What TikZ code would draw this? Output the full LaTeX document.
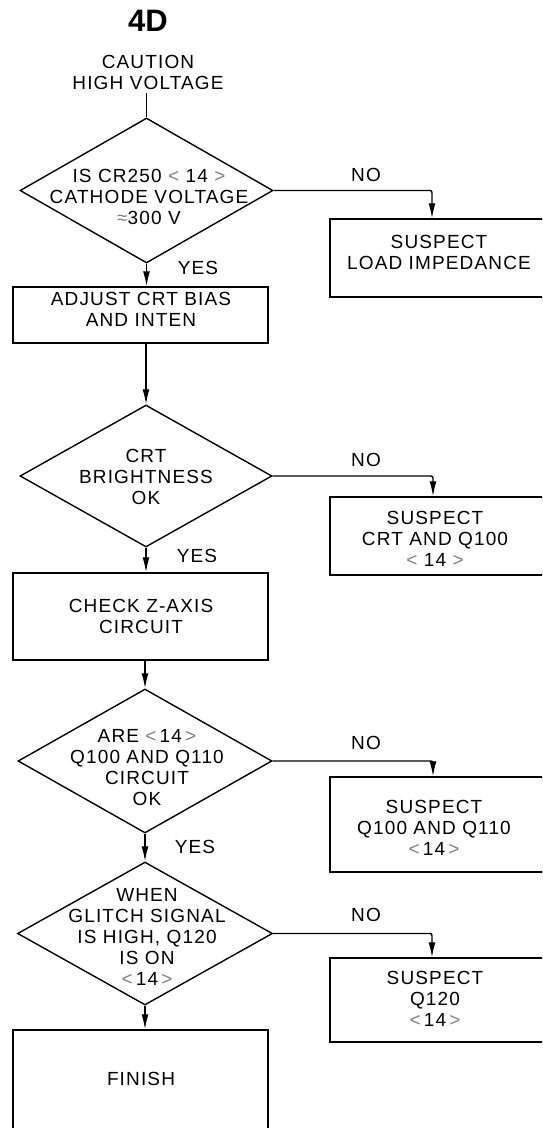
\documentclass[tikz,border=0pt]{standalone}
\usepackage{fontspec}
\setmainfont{Liberation Sans}
\newfontfamily\lblfont[LetterSpace=6]{Liberation Sans}
\usetikzlibrary{shapes.geometric,arrows.meta}
\newcommand\lab{{\color{black!50}<}}
\newcommand\rab{{\color{black!50}>}}
\newcommand\apx{{\color{black!50}≈}}
\begin{document}
\begin{tikzpicture}[x=1pt,y=-1pt,
  every node/.style={font=\lblfont\fontsize{19}{21}\selectfont, align=center, inner sep=0pt},
  dia/.style={draw, shape=diamond, line width=1.4pt},
  box/.style={draw, rectangle, line width=1.5pt},
  conn/.style={line width=1.4pt},
  arr/.style={conn, -{Latex[length=15pt,width=7pt]}},
  ttl/.style={font=\bfseries\fontsize{31}{34}\selectfont}
]
\useasboundingbox (0,0) rectangle (542,1128);
\clip (0,0) rectangle (542,1128);
\fill[white] (0,0) rectangle (542,1128);

% title and caution
\node[ttl] (title) at (148,21) {4D};
\node (caution) at (148,72) {CAUTION\\HIGH VOLTAGE};

% main column shapes
\node[dia, minimum width=253, minimum height=145] (d1) at (146.5,190.5) {};
\node (d1t) at (149,197) {IS CR250 \lab\ 14 \rab\\CATHODE VOLTAGE\\\apx 300 V};

\node[box, minimum width=255, minimum height=56] (b2) at (140.5,315) {};
\node (b2t) at (141,309) {ADJUST CRT BIAS\\AND INTEN};

\node[dia, minimum width=252, minimum height=142] (d2) at (146,476) {};
\node (d2t) at (146,477) {CRT\\BRIGHTNESS\\OK};

\node[box, minimum width=255, minimum height=87] (b3) at (140.5,616.5) {};
\node (b3t) at (141,616.5) {CHECK Z-AXIS\\CIRCUIT};

\node[dia, minimum width=254, minimum height=144] (d3) at (145,761) {};
\node (d3t) at (147,768) {ARE \lab\,14\,\rab\\Q100 AND Q110\\CIRCUIT\\OK};

\node[dia, minimum width=255, minimum height=143] (d4) at (145,933.5) {};
\node (d4t) at (147,937) {WHEN\\GLITCH SIGNAL\\IS HIGH, Q120\\IS ON\\\lab\,14\,\rab};

\node[box, minimum width=255, minimum height=100] (fin) at (140.5,1080) {};
\node (fint) at (141,1079) {FINISH};

% right column boxes
\node[box, minimum width=215, minimum height=78] (r1) at (437.5,258) {};
\node (r1t) at (439,252.5) {SUSPECT\\LOAD IMPEDANCE};

\node[box, minimum width=215, minimum height=78] (r2) at (437.5,536) {};
\node (r2t) at (435,539) {SUSPECT\\CRT AND Q100\\\lab\ 14 \rab};

\node[box, minimum width=215, minimum height=95] (r3) at (437.5,824.5) {};
\node (r3t) at (434,828) {SUSPECT\\Q100 AND Q110\\\lab\,14\,\rab};

\node[box, minimum width=215, minimum height=84] (r4) at (437.5,1000) {};
\node (r4t) at (435,998.5) {SUSPECT\\Q120\\\lab\,14\,\rab};

% labels
\node (y1) at (198,268) {YES};
\node (y2) at (197,556) {YES};
\node (y3) at (195,847) {YES};
\node (n1) at (366,175) {NO};
\node (n2) at (366,460) {NO};
\node (n3) at (366,743) {NO};
\node (n4) at (366,915) {NO};

% main flow connectors
\draw[conn] ([yshift=-4pt]caution.south -| d1.north) -- (d1.north);
\draw[arr] (d1.south) -- (d1.south |- b2.north);
\draw[arr] (d2.north |- b2.south) -- (d2.north);
\draw[arr] (d2.south) -- (d2.south |- b3.north);
\draw[arr] (d3.north |- b3.south) -- (d3.north);
\draw[arr] (d3.south) -- (d4.north);
\draw[arr] (d4.south) -- (d4.south |- fin.north);

% NO connectors
\draw[arr, rounded corners=2pt] (d1.east) -| ([xshift=-5.5pt]r1.north);
\draw[arr, rounded corners=2pt] (d2.east) -| ([xshift=-4.5pt]r2.north);
\draw[arr, rounded corners=2pt] (d3.east) -| ([xshift=-4.5pt]r3.north);
\draw[arr, rounded corners=2pt] (d4.east) -| ([xshift=-5.5pt]r4.north);
\end{tikzpicture}
\end{document}
